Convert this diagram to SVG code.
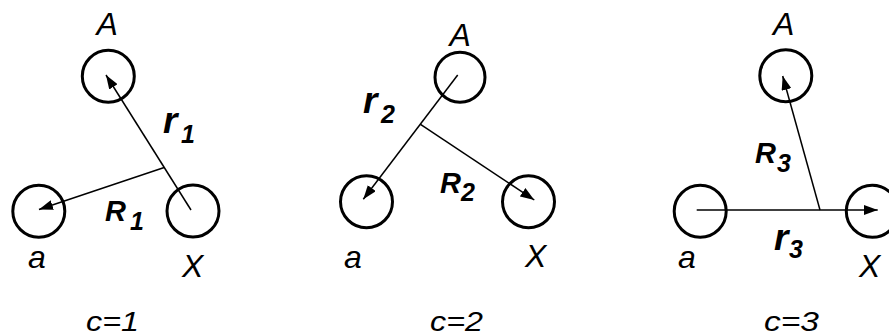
<svg xmlns="http://www.w3.org/2000/svg" width="889" height="336" viewBox="0 0 889 336">
  <style>
    .node { fill: none; stroke: #000; stroke-width: 3; }
    .lbl { font-family: "Liberation Sans", Arial, sans-serif; font-style: italic; font-size: 32px; fill: #000; }
    .cap { font-family: "Liberation Sans", Arial, sans-serif; font-style: italic; font-size: 28px; fill: #000; }
    .vec { font-family: "Liberation Sans", Arial, sans-serif; font-style: italic; font-weight: bold; fill: #000; }
    .r { font-size: 37px; }
    .R { font-size: 29px; }
    .sub { font-size: 25px; }
    .conn { stroke: #000; stroke-width: 1.5; fill: none; marker-end: url(#arrow); }
  </style>
  <defs>
    <marker id="arrow" markerUnits="userSpaceOnUse" markerWidth="14" markerHeight="10" refX="14" refY="5" orient="auto">
      <path d="M0,0 L14,5 L0,10 z" fill="#000"/>
    </marker>
  </defs>
  <rect width="889" height="336" fill="#fff"/>

  <!-- Panel 1 -->
  <g id="p1-A"><circle class="node" cx="108.3" cy="76.2" r="26"/><text class="lbl" x="96.5" y="35">A</text></g>
  <g id="p1-a"><circle class="node" cx="38.8" cy="211.3" r="26"/><text class="lbl" x="28" y="268">a</text></g>
  <g id="p1-X"><circle class="node" cx="193" cy="211" r="26"/><text class="lbl" x="182" y="277">X</text></g>

  <!-- Panel 2 -->
  <g id="p2-A"><circle class="node" cx="460" cy="77.2" r="25"/><text class="lbl" x="449.5" y="45.7">A</text></g>
  <g id="p2-a"><circle class="node" cx="366.5" cy="201.7" r="26"/><text class="lbl" x="344" y="268">a</text></g>
  <g id="p2-X"><circle class="node" cx="528.5" cy="201.7" r="26"/><text class="lbl" x="525" y="266.7">X</text></g>

  <!-- Panel 3 -->
  <g id="p3-A"><circle class="node" cx="785.8" cy="75.8" r="26"/><text class="lbl" x="773" y="35">A</text></g>
  <g id="p3-a"><circle class="node" cx="700.2" cy="211.3" r="26"/><text class="lbl" x="678" y="268">a</text></g>
  <g id="p3-X"><circle class="node" cx="872.3" cy="211.3" r="26"/><text class="lbl" x="859" y="277">X</text></g>

  <g id="connectors">
    <line class="conn" x1="191" y1="210" x2="106" y2="75"/>
    <line class="conn" x1="164.2" y1="167.5" x2="39" y2="209.5"/>
    <line class="conn" x1="457.7" y1="75" x2="363.3" y2="199.3"/>
    <line class="conn" x1="420.5" y1="124.3" x2="534.3" y2="200"/>
    <line class="conn" x1="696.7" y1="210" x2="877.7" y2="210"/>
    <line class="conn" x1="820" y1="210" x2="782.7" y2="76"/>
  </g>

  <g id="connector-labels">
    <text class="vec r" x="163" y="133">r</text><text class="vec sub" x="181" y="143">1</text>
    <text class="vec R" x="105" y="221">R</text><text class="vec sub" x="130" y="230">1</text>
    <text class="vec r" x="363" y="113">r</text><text class="vec sub" x="381" y="123">2</text>
    <text class="vec R" x="440" y="192.5">R</text><text class="vec sub" x="461" y="200.5">2</text>
    <text class="vec R" x="755" y="163">R</text><text class="vec sub" x="777" y="171.5">3</text>
    <text class="vec r" x="774" y="250">r</text><text class="vec sub" x="789" y="258">3</text>
  </g>

  <g id="captions">
    <text class="cap" x="86" y="331" textLength="53" lengthAdjust="spacingAndGlyphs">c=1</text>
    <text class="cap" x="430" y="331" textLength="53" lengthAdjust="spacingAndGlyphs">c=2</text>
    <text class="cap" x="764" y="331" textLength="55" lengthAdjust="spacingAndGlyphs">c=3</text>
  </g>
</svg>
